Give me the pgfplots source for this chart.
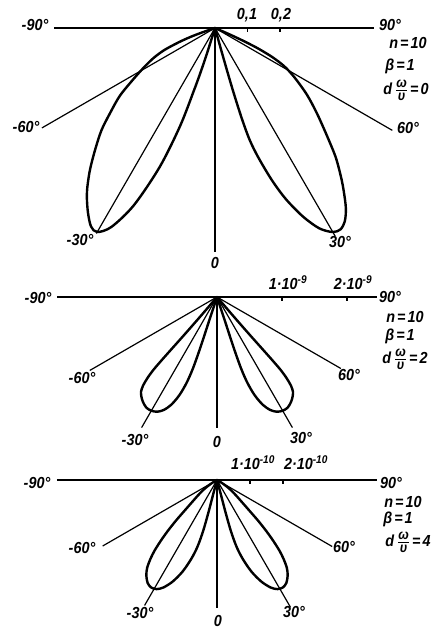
\documentclass[border=0pt]{standalone}
\usepackage{pgfplots}
\pgfplotsset{compat=1.18}
\usepackage{pgfplotstable}
\usepackage{fontspec}
\setmainfont{Liberation Sans}[FakeStretch=0.9]

% Lobe outlines as (angle from the downward normal in degrees, radius),
% traced from the inner null through the maximum to the outer null.
% d*omega/v = 0 (radius in absolute units)
\pgfplotstableread{
th r
15.5 0
15.7 0.10
16.0 0.20
16.5 0.29
17.2 0.36
18.5 0.42
20.5 0.50
22.5 0.57
25.0 0.64
27.5 0.695
30.0 0.725
32.0 0.73
34.0 0.715
36.0 0.685
38.0 0.645
40.0 0.605
43.0 0.545
46.0 0.48
50.0 0.41
54.0 0.35
58.0 0.29
61.0 0.245
63.0 0.20
64.5 0.15
65.5 0.10
66.3 0.05
67.0 0
}\lobeAright
\pgfplotstableread{
th r
17.0 0
17.5 0.08
18.0 0.14
18.6 0.20
19.6 0.32
21.7 0.46
24.6 0.60
27.5 0.69
30.0 0.725
32.0 0.72
34.5 0.69
37.0 0.655
38.9 0.625
41.5 0.58
44.6 0.525
48.0 0.47
51.0 0.415
54.5 0.36
57.7 0.30
61.0 0.25
64.0 0.21
66.5 0.17
68.5 0.12
70.0 0.08
71.0 0.04
71.8 0
}\lobeAleft
% d*omega/v = 2 (radius in units of 1e-9)
\pgfplotstableread{
th r
18.5 0
18.3 0.40
18.2 0.80
18.6 1.15
19.5 1.40
21.0 1.62
23.0 1.80
25.2 1.92
27.5 1.99
30.0 2.02
32.5 2.02
35.0 1.98
37.0 1.93
38.7 1.87
39.8 1.78
40.6 1.65
41.1 1.50
41.2 1.30
41.1 1.05
40.9 0.80
40.7 0.55
40.5 0.30
40.4 0
}\lobeB
% d*omega/v = 4 (radius in units of 1e-10)
\pgfplotstableread{
th r
15.5 0
15.0 0.40
14.8 1.00
15.2 1.60
16.3 2.10
18.0 2.50
20.5 2.95
23.5 3.35
26.5 3.64
29.0 3.78
31.5 3.82
34.0 3.76
36.5 3.60
38.5 3.40
40.2 3.12
41.5 2.85
42.8 2.50
44.0 2.15
45.3 1.75
46.6 1.35
48.5 1.00
51.5 0.70
55.0 0.45
58.5 0.20
61.0 0
}\lobeC

\pgfplotsset{
  polarpanel/.style={hide axis, clip=false, anchor=origin},
  lobe/.style={black, line width=2.4pt, smooth, tension=0.5, line join=round, line cap=round, data cs=polar},
  ray/.style={black, line width=1.2pt},
  base/.style={black, line width=1.7pt},
}
\newcommand\ray[2]{\addplot[ray, data cs=polar] coordinates {(0,0) (#1,#2)};}
% a lobe on each side of the normal
\newcommand\lobes[2]{%
  \addplot[lobe] table[x expr=\thisrow{th}-90, y=r] {#1};
  \addplot[lobe] table[x expr=-90-\thisrow{th}, y=r] {#2};}
\tikzset{lab/.style={font=\fontsize{16}{18}\selectfont\bfseries\itshape, inner sep=0pt}}
\newcommand\frc{$\frac{\mbox{\fontsize{14}{14}\selectfont\bfseries\itshape ω}}{\mbox{\fontsize{14}{14}\selectfont\bfseries\itshape υ}}$}
\newcommand\eq{\kern2pt=\kern2pt}

\begin{document}
\begin{tikzpicture}[x=1pt,y=1pt]
\useasboundingbox (0pt,0pt) rectangle (443pt,630pt);

% ---------- d omega / v = 0 ----------
\begin{axis}[polarpanel, at={(215pt,602pt)}, x=325pt, y=325pt,
  xmin=-0.5, xmax=0.5, ymin=-0.75, ymax=0.02]
  \addplot[base] coordinates {(-0.495,0) (0.49,0)};
  \addplot[ray] coordinates {(0.1,0) (0.1,-0.013)};
  \addplot[ray] coordinates {(0.2,0) (0.2,-0.013)};
  \ray{-150}{0.615}
  \ray{-30}{0.63}
  \ray{-120}{0.73}
  \ray{-60}{0.74}
  \ray{-90}{0.69}
  \lobes{\lobeAright}{\lobeAleft}
\end{axis}
\node[lab] at (35pt,605pt) {-90°};
\node[lab] at (390pt,605pt) {90°};
\node[lab] at (247pt,615pt) {0,1};
\node[lab] at (281pt,615pt) {0,2};
\node[lab] at (408pt,587pt) {n\eq10};
\node[lab] at (400pt,564pt) {β\eq1};
\node[lab] at (406pt,540pt) {d\kern3pt\frc\eq0};
\node[lab] at (26pt,503pt) {-60°};
\node[lab] at (408pt,502pt) {60°};
\node[lab] at (80pt,390pt) {-30°};
\node[lab] at (340pt,388pt) {30°};
\node[lab] at (215pt,367pt) {0};

% ---------- d omega / v = 2 ----------
\begin{axis}[polarpanel, at={(217pt,333pt)}, x=65pt, y=65pt,
  xmin=-2.5, xmax=2.5, ymin=-2.4, ymax=0.1]
  \addplot[base] coordinates {(-2.46,0) (2.46,0)};
  \addplot[ray] coordinates {(1,0) (1,-0.065)};
  \addplot[ray] coordinates {(2,0) (2,-0.065)};
  \ray{-150}{2.26}
  \ray{-30}{2.2}
  \ray{-120}{2.32}
  \ray{-60}{2.32}
  \addplot[base, data cs=polar] coordinates {(0,0) (-90,2.02)};
  \lobes{\lobeB}{\lobeB}
\end{axis}
\node[lab] at (38pt,332pt) {-90°};
\node[lab] at (390pt,333pt) {90°};
\node[lab] at (288pt,347pt) {1·10\textsuperscript{-9}};
\node[lab] at (353pt,347pt) {2·10\textsuperscript{-9}};
\node[lab] at (405pt,313pt) {n\eq10};
\node[lab] at (400pt,294pt) {β\eq1};
\node[lab] at (405pt,271pt) {d\kern3pt\frc\eq2};
\node[lab] at (82pt,252pt) {-60°};
\node[lab] at (349pt,255pt) {60°};
\node[lab] at (135pt,190pt) {-30°};
\node[lab] at (217pt,188pt) {0};
\node[lab] at (301pt,192pt) {30°};

% ---------- d omega / v = 4 ----------
\begin{axis}[polarpanel, at={(217pt,150pt)}, x=33pt, y=33pt,
  xmin=-4.9, xmax=4.9, ymin=-4.5, ymax=0.2]
  \addplot[base] coordinates {(-4.85,0) (4.85,0)};
  \addplot[ray] coordinates {(1,0) (1,-0.12)};
  \addplot[ray] coordinates {(2,0) (2,-0.12)};
  \ray{-150}{4.0}
  \ray{-30}{4.03}
  \ray{-120}{4.39}
  \ray{-60}{4.45}
  \addplot[base, data cs=polar] coordinates {(0,0) (-90,3.88)};
  \lobes{\lobeC}{\lobeC}
\end{axis}
\node[lab] at (37pt,147pt) {-90°};
\node[lab] at (391pt,147pt) {90°};
\node[lab] at (253pt,167pt) {1·10\textsuperscript{-10}};
\node[lab] at (306pt,167pt) {2·10\textsuperscript{-10}};
\node[lab] at (403pt,128pt) {n\eq10};
\node[lab] at (398pt,111pt) {β\eq1};
\node[lab] at (408pt,88pt) {d\kern3pt\frc\eq4};
\node[lab] at (82pt,82pt) {-60°};
\node[lab] at (344pt,83pt) {60°};
\node[lab] at (140pt,17pt) {-30°};
\node[lab] at (218pt,9pt) {0};
\node[lab] at (294pt,18pt) {30°};
\end{tikzpicture}
\end{document}
